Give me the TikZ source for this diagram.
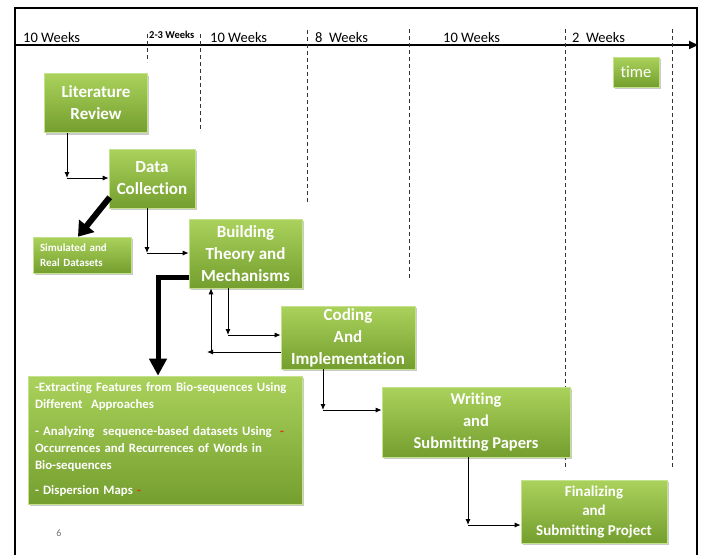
\documentclass[tikz,border=0pt]{standalone}
\usepackage{fontspec}
\setmainfont[Ligatures=NoCommon]{Carlito}
\usetikzlibrary{arrows.meta,shadows,calc}
\definecolor{boxtop}{RGB}{170,210,92}
\definecolor{boxbot}{RGB}{116,158,46}
\definecolor{boxline}{RGB}{196,226,140}
\definecolor{reddash}{RGB}{240,40,30}
\newcommand{\rdash}{\mbox{\textcolor{reddash}{\fontsize{12.5}{12.5}\selectfont -}}}
\begin{document}
\begin{tikzpicture}[x=1pt,y=-1pt,
  gbox/.style={draw=boxline, line width=0.6pt, top color=boxtop, bottom color=boxbot,
    text=white, align=center, inner sep=0pt,
    drop shadow={shadow xshift=1.5pt, shadow yshift=-2pt, opacity=0.35, fill=black!60}},
  bigfont/.style={font=\bfseries\fontsize{17}{22}\selectfont},
  wk/.style={font=\fontsize{14.5}{16}\selectfont, anchor=base west, inner sep=0pt},
  dline/.style={dashed, dash pattern=on 4pt off 3pt, line width=0.7pt, black!80},
  thin/.style={line width=0.9pt, -{Latex[length=6pt,width=5pt]}},
  thick/.style={line width=6pt, -{Triangle[length=14pt,width=19pt]}},
]
\useasboundingbox (0,0) rectangle (703,555);
% frame
\coordinate (f1) at (15,555);
\coordinate (f2) at (15,8);
\coordinate (f3) at (697,8);
\coordinate (f4) at (697,555);
\draw[line width=1.2pt] (f1) -- (f2) -- (f3) -- (f4);
% timeline
\coordinate (tl0) at (15,45);
\coordinate (tl1) at (698,45);
\draw[line width=2.2pt, -{Triangle[length=9pt,width=8pt]}] (tl0) -- (tl1);
% dashed separators
\foreach \n/\x/\a/\b in {d1/147/34/62, d2/200/34/132, d3/307/30/202, d4/409/29/278, d5/565/29/470, d6/672/29/468}{
  \coordinate (\n a) at (\x,\a);
  \coordinate (\n b) at (\x,\b);
  \draw[dline] (\n a) -- (\n b);
}
% week labels
\node[wk] (w1) at (23,42) {10 Weeks};
\node[wk, font=\bfseries\fontsize{10.5}{12}\selectfont] (w2) at (149,38) {2-3 Weeks};
\node[wk] (w3) at (210,42) {10 Weeks};
\node[wk] (w4) at (315,42) {8\ \ Weeks};
\node[wk] (w5) at (443,42) {10 Weeks};
\node[wk] (w6) at (572,42) {2\ \ Weeks};
% boxes
\node[gbox, font=\fontsize{16.5}{18}\selectfont, minimum width=46pt, minimum height=30pt] (time) at (636,72) {time};
\node[gbox, bigfont, minimum width=103pt, minimum height=59pt] (lit) at (96,103) {Literature\\Review};
\node[gbox, bigfont, minimum width=86pt, minimum height=59pt] (dc) at (152,178.5) {Data\\Collection};
\node[gbox, font=\bfseries\fontsize{11}{15}\selectfont, align=left, minimum width=98pt, minimum height=36pt, text width=84pt] (sim) at (82,255) {Simulated and\\Real Datasets};
\node[gbox, bigfont, minimum width=113pt, minimum height=69pt] (bt) at (245.5,253.5) {Building\\Theory and\\Mechanisms};
\node[gbox, bigfont, minimum width=134pt, minimum height=63pt] (cod) at (348,337.5) {Coding\\And\\Implementation};
\node[gbox, font=\bfseries\fontsize{12.8}{17}\selectfont, align=left, minimum width=274pt, minimum height=128pt, text width=260pt] (big) at (165,440)
 {-Extracting Features from Bio-sequences Using\\
  Different\ \ Approaches\\[10pt]
  - Analyzing\ \ sequence-based datasets Using\ \ \rdash\\
  Occurrences and Recurrences of Words in\\
  Bio-sequences\\[8pt]
  - Dispersion Maps\ \rdash\hspace*{1pt}\\};
\node[gbox, font=\bfseries\fontsize{16.5}{22}\selectfont, minimum width=188pt, minimum height=70pt] (wr) at (476,422) {Writing\\and\\Submitting Papers};
\node[gbox, font=\bfseries\fontsize{15}{19.5}\selectfont, minimum width=146pt, minimum height=63pt] (fin) at (594,511.5) {Finalizing\\and\\Submitting Project};
% page number
\node[font=\fontsize{10}{12}\selectfont, text=black!55, inner sep=0pt] (pg) at (59,533) {6};
% thin elbow connectors
\coordinate (c1) at (67,178);
\draw[thin] (lit.south -| c1) -- (c1);
\draw[thin] (c1) -- (dc.west |- c1);
\coordinate (c2) at (147,253);
\draw[thin] (dc.south -| c2) -- (c2);
\draw[thin] (c2) -- (bt.west |- c2);
\coordinate (c3) at (228,335);
\draw[thin] (bt.south -| c3) -- (c3);
\draw[thin] (c3) -- (cod.west |- c3);
\coordinate (c4) at (207,352);
\coordinate (c5) at (211,352);
\draw[thin] (cod.west |- c4) -- (c4);
\draw[thin] (c5) -- (bt.south -| c5);
\coordinate (c6) at (323,410);
\draw[thin] (cod.south -| c6) -- (c6);
\draw[thin] (c6) -- (wr.west |- c6);
\coordinate (c7) at (468,525);
\draw[thin] (wr.south -| c7) -- (c7);
\draw[thin] (c7) -- (fin.west |- c7);
% thick arrows
\draw[thick] ([xshift=1pt,yshift=11pt]dc.south west) -- ([xshift=-4pt]sim.north);
\draw[line width=5pt, -{Triangle[length=17pt,width=17pt]}] ([yshift=-23.5pt]bt.west) -| ([xshift=-7pt]big.north);
\end{tikzpicture}
\end{document}
